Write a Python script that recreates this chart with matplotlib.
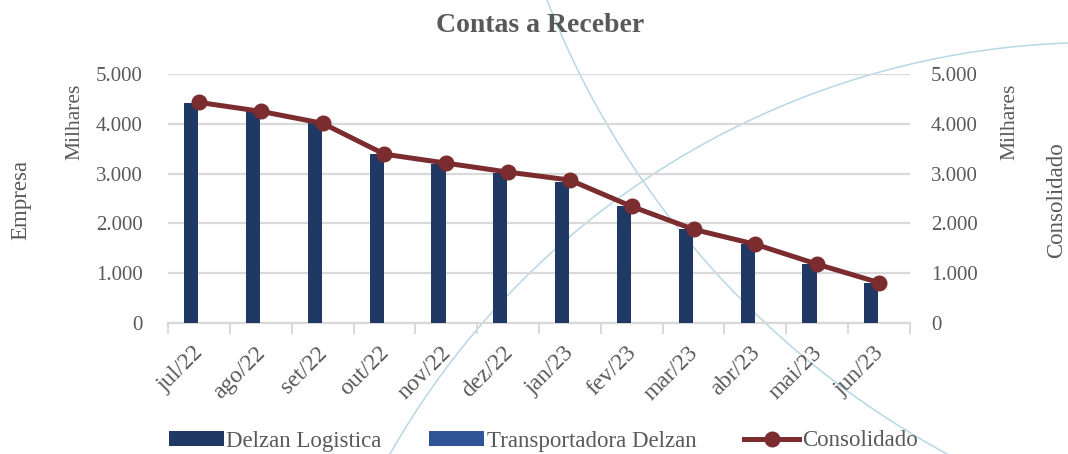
import numpy as np
import matplotlib
matplotlib.use("Agg")
import matplotlib.pyplot as plt
from matplotlib.lines import Line2D
from matplotlib.patches import Patch
import matplotlib.transforms as mtransforms
from matplotlib.ticker import FuncFormatter

plt.rcParams['font.family'] = ['Liberation Serif', 'DejaVu Serif']

categories = ["jul/22", "ago/22", "set/22", "out/22", "nov/22", "dez/22",
              "jan/23", "fev/23", "mar/23", "abr/23", "mai/23", "jun/23"]
delzan_logistica = [4410, 4280, 4040, 3390, 3190, 3010, 2840, 2340, 1880, 1580, 1180, 810]
transportadora_delzan = [0, 0, 0, 0, 0, 0, 0, 0, 0, 0, 0, 0]
consolidado = [4430, 4250, 4010, 3390, 3210, 3030, 2870, 2340, 1880, 1580, 1180, 810]
yticks = [0, 1000, 2000, 3000, 4000, 5000]

W, H = 1068, 454
fig = plt.figure(figsize=(W / 100, H / 100), dpi=100)
fig.patch.set_facecolor('white')

# decorative background arcs (pixel coords of image, y downward)
def circle_from_3(p1, p2, p3):
    (x1, y1), (x2, y2), (x3, y3) = p1, p2, p3
    A = np.array([[x2 - x1, y2 - y1], [x3 - x1, y3 - y1]], float) * 2
    b = np.array([x2**2 - x1**2 + y2**2 - y1**2, x3**2 - x1**2 + y3**2 - y1**2], float)
    c = np.linalg.solve(A, b)
    r = np.hypot(x1 - c[0], y1 - c[1])
    return c, r

def draw_arc(p1, p2, p3):
    c, r = circle_from_3(p1, p2, p3)
    a1 = np.arctan2(p1[1] - c[1], p1[0] - c[0])
    a3 = np.arctan2(p3[1] - c[1], p3[0] - c[0])
    a2 = np.arctan2(p2[1] - c[1], p2[0] - c[0])
    if not (min(a1, a3) <= a2 <= max(a1, a3)):
        if a3 < a1:
            a3 += 2 * np.pi
        else:
            a3 -= 2 * np.pi
    d = np.sign(a3 - a1)
    angs = np.linspace(a1 - d * 0.05, a3 + d * 0.05, 400)
    xs = c[0] + r * np.cos(angs)
    ys = c[1] + r * np.sin(angs)
    fig.add_artist(Line2D(xs / W, 1 - ys / H, transform=fig.transFigure,
                          color='#b7d7e6', lw=1.1, zorder=-1))

draw_arc((547, 0), (677, 227), (947, 454))
draw_arc((390, 454), (640, 183), (1068, 43))

left, right, bottom, top = 168 / W, 910 / W, 1 - 323 / H, 1 - 74 / H
ax = fig.add_axes([left, bottom, right - left, top - bottom])
ax.set_facecolor('none')
ax2 = ax.twinx()
ax2.set_facecolor('none')

x = np.arange(len(categories))
bw = 0.23
ax.bar(x - 0.125, delzan_logistica, width=bw, color='#1f3864', zorder=3)
ax.bar(x + 0.115, transportadora_delzan, width=bw, color='#2f5597', zorder=3)
ax2.plot(x, consolidado, color='#7b2c2f', lw=3.6, marker='o', markersize=10.5, zorder=4)

fmt = FuncFormatter(lambda v, p: f"{int(v):,}".replace(",", "."))
for a in (ax, ax2):
    a.set_ylim(0, 5000)
    a.set_yticks(yticks)
    a.yaxis.set_major_formatter(fmt)
    for s in a.spines.values():
        s.set_visible(False)
    a.tick_params(axis='y', length=0, labelsize=15, labelcolor='#595959')
ax.set_xlim(-0.5, len(categories) - 0.5)

ax.tick_params(axis='y', pad=18)
ax2.tick_params(axis='y', pad=15)
ax.yaxis.grid(True, color='#d9d9d9', lw=1.6, zorder=0)
ax.set_axisbelow(True)
ax.spines['bottom'].set_visible(True)
ax.spines['bottom'].set_color('#d9d9d9')
ax.spines['bottom'].set_linewidth(1.6)

ax.set_xticks(x)
ax.set_xticklabels(categories, rotation=45, ha='right', rotation_mode='anchor',
                   fontsize=17, color='#595959')
ax.tick_params(axis='x', which='major', length=0, pad=14)
ax.set_xticks(np.arange(len(categories) + 1) - 0.5, minor=True)
ax.tick_params(axis='x', which='minor', length=8, color='#d9d9d9', width=1.4)
offset = mtransforms.ScaledTranslation(-6 / 100, 0, fig.dpi_scale_trans)
for lbl in ax.get_xticklabels():
    lbl.set_transform(lbl.get_transform() + offset)

gray = '#595959'
fig.text(540 / W, 1 - 25 / H, "Contas a Receber", ha='center', va='center',
         fontsize=20, fontweight='bold', color=gray)
fig.text(75 / W, 1 - 122 / H, "Milhares", rotation=90, ha='center', va='center',
         fontsize=15.5, color=gray)
fig.text(21 / W, 1 - 200 / H, "Empresa", rotation=90, ha='center', va='center',
         fontsize=16.5, color=gray)
fig.text(1010 / W, 1 - 122 / H, "Milhares", rotation=90, ha='center', va='center',
         fontsize=15.5, color=gray)
fig.text(1057 / W, 1 - 200 / H, "Consolidado", rotation=90, ha='center', va='center',
         fontsize=16.5, color=gray)

handles = [Patch(facecolor='#1f3864', label='Delzan Logistica'),
           Patch(facecolor='#2f5597', label='Transportadora Delzan'),
           Line2D([0], [0], color='#7b2c2f', lw=3.6, marker='o', markersize=10.5,
                  label='Consolidado')]
leg = fig.legend(handles=handles, loc='center', bbox_to_anchor=(543 / W, 1 - 441 / H),
                 ncol=3, frameon=False, fontsize=16.5, handlelength=2.4, handleheight=0.62,
                 handletextpad=0.1, columnspacing=2.1, labelcolor=gray)

fig.savefig("out.png", dpi=100)
